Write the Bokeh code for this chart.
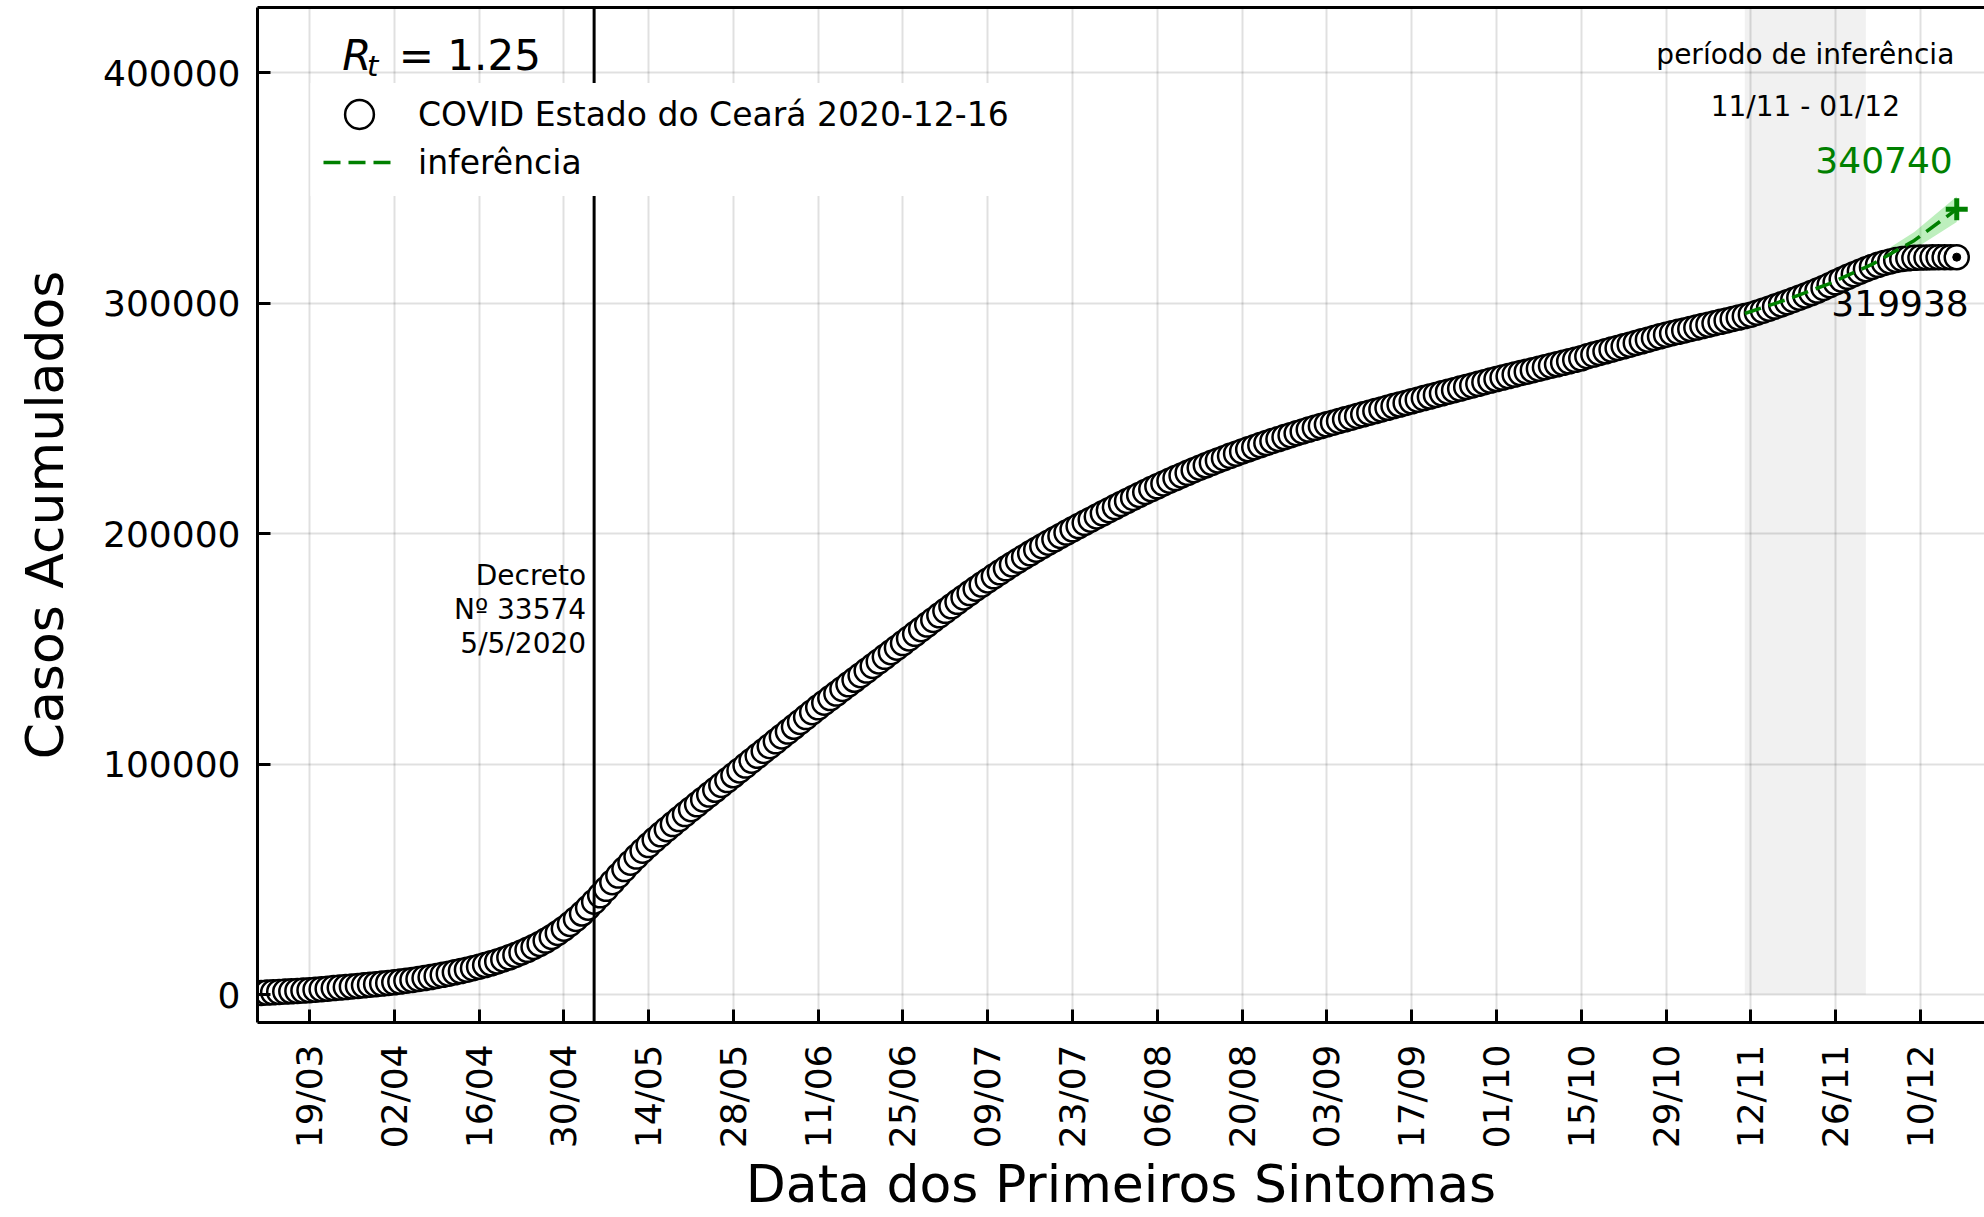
import math
import pandas as pd
from bokeh.plotting import figure
from bokeh.models import (Range1d, FixedTicker, BasicTickFormatter, DatetimeTickFormatter,
                          LinearAxis, Span, BoxAnnotation, Label, Legend, LegendItem,
                          ColumnDataSource)
from bokeh.core.properties import value
from bokeh.embed import file_html
from bokeh.resources import INLINE

FONT = "DejaVu Sans"

# ---------------- data ----------------
start_date = "2020-03-11"
cases = [
    700, 830, 970, 1110, 1260, 1410, 1570, 1730, 1900,
    2110, 2330, 2550, 2780, 3010, 3250, 3490, 3740, 3990, 4250, 4510, 4770,
    5030, 5300,
    5630, 5980, 6350, 6740, 7150, 7590, 8050, 8540, 9060, 9610, 10190, 10800, 11440, 12100,
    12800, 13550, 14350, 15220, 16160, 17170, 18250, 19400, 20620,
    21950, 23400, 24980, 26700, 28550,
    30600, 32800, 35150, 37650, 40300,
    43050, 45880, 48750, 51620, 54450, 57200, 59850, 62400, 64850,
    67220, 69520, 71760, 73960, 76130, 78280, 80400, 82520, 84630, 86740, 88840, 90940, 93040, 95130,
    97240, 99340, 101450,
    103550, 105660, 107760, 109870, 111970, 114080, 116180, 118290, 120390, 122500, 124600,
    126620, 128610, 130600, 132590, 134580, 136570, 138560, 140550, 142540, 144530, 146520, 148510, 150500, 152490,
    154500, 156510, 158520, 160520, 162520,
    164510, 166490, 168450, 170390, 172310, 174200, 176060, 177890, 179690,
    181460, 183200, 184910, 186590, 188240, 189860, 191450, 193010, 194540, 196040, 197520, 198980, 200420, 201840,
    203250, 204650, 206040, 207420, 208790, 210150, 211500, 212840,
    214170, 215480, 216770, 218040, 219290, 220520,
    221730, 222920, 224090, 225240, 226370, 227480, 228570, 229640, 230690, 231720, 232730, 233720, 234690, 235640,
    236580, 237500, 238400, 239290, 240170, 241030, 241880, 242710, 243530, 244330, 245120,
    245890, 246650, 247390,
    248120, 248850, 249580, 250300, 251020, 251740, 252460, 253170, 253880, 254590, 255300, 256000, 256700, 257400,
    258090, 258780, 259470, 260160, 260850, 261540, 262230, 262920, 263610, 264300, 264990, 265680, 266370,
    267060,
    267700, 268340, 268980, 269620, 270260, 270900, 271540, 272180, 272820, 273460, 274100, 274740, 275380, 276020,
    276940, 277660, 278380, 279100, 279820, 280540, 281260, 281980, 282700, 283420, 284140, 284860, 285580, 286300,
    286920, 287540,
    288160, 288780, 289400, 290020, 290640, 291260, 291880, 292500, 293120, 293740, 294360, 294980,
    295830, 296700, 297590, 298500, 299430, 300380, 301350, 302340, 303350, 304380, 305430, 306600, 307800, 309000,
    310200, 311400, 312550, 313650,
    314700, 315700, 316600, 317400, 318100, 318700, 319150, 319450, 319650, 319760, 319830, 319880,
    319910, 319925, 319933, 319938,
]

inf_dates = ["2020-11-11", "2020-11-18", "2020-11-25", "2020-12-02", "2020-12-09", "2020-12-16"]
inf_mid = [295500, 301600, 308500, 316800, 327200, 340740]
inf_low = [295500, 301000, 307200, 314500, 323500, 335200]
inf_high = [295500, 302200, 309800, 319100, 330900, 346300]

x_tick_labels = ["19/03", "02/04", "16/04", "30/04", "14/05", "28/05", "11/06", "25/06",
                 "09/07", "23/07", "06/08", "20/08", "03/09", "17/09", "01/10", "15/10",
                 "29/10", "12/11", "26/11", "10/12"]
y_ticks = [0, 100000, 200000, 300000, 400000]

decree_date = "2020-05-05"
decree_lines = ["Decreto", "Nº 33574", "5/5/2020"]
period_start, period_end = "2020-11-11", "2020-12-01"
period_lines = ["período de inferência", "11/11 - 01/12"]
rt_value = 1.25
series_label = "COVID Estado do Ceará 2020-12-16"
inf_label = "inferência"


def ms(s):
    return pd.Timestamp(s).value / 1e6


dates = pd.date_range(start_date, periods=len(cases), freq="D")
src = ColumnDataSource(dict(date=dates, cases=cases))
inf_src = ColumnDataSource(dict(date=pd.to_datetime(inf_dates), mid=inf_mid, low=inf_low, high=inf_high))

x_ticks = [ms(pd.to_datetime(t + "/2020", format="%d/%m/%Y")) for t in x_tick_labels]

# ---------------- figure ----------------
p = figure(width=1984, height=1217, x_axis_type="datetime",
           output_backend="svg", toolbar_location=None,
           x_range=Range1d(ms("2020-03-10 10:00"), ms("2020-12-20 14:00")),
           y_range=Range1d(-12140, 428260),
           min_border_left=257, min_border_right=0, min_border_top=7, min_border_bottom=150)
p.outline_line_color = None
p.background_fill_color = "white"
p.border_fill_color = "white"

xaxis = p.below[0]
xaxis.ticker = FixedTicker(ticks=x_ticks)
xaxis.formatter = DatetimeTickFormatter(days="%d/%m", months="%d/%m", years="%d/%m",
                                        strip_leading_zeros=False)
xaxis.major_label_orientation = math.pi / 2
xaxis.axis_label = "Data dos Primeiros Sintomas"

yaxis = p.left[0]
yaxis.ticker = FixedTicker(ticks=y_ticks)
yaxis.formatter = BasicTickFormatter(use_scientific=False)
yaxis.axis_label = "Casos Acumulados"

for ax in (xaxis, yaxis):
    ax.axis_line_color = "black"
    ax.axis_line_width = 3
    ax.major_tick_in = 13
    ax.major_tick_out = 0
    ax.major_tick_line_width = 3
    ax.major_tick_line_color = "black"
    ax.minor_tick_line_color = None
    ax.major_label_text_font = FONT
    ax.major_label_text_font_size = "36px"
    ax.major_label_text_color = "black"
    ax.axis_label_text_font = FONT
    ax.axis_label_text_font_size = "52px"
    ax.axis_label_text_font_style = "normal"
    ax.axis_label_text_color = "black"
xaxis.major_label_standoff = 22
xaxis.axis_label_standoff = 3
yaxis.major_label_standoff = 17
yaxis.axis_label_standoff = 25

top_axis = LinearAxis(ticker=FixedTicker(ticks=[]), major_tick_in=0, major_tick_out=0,
                      minor_tick_line_color=None, major_label_standoff=0,
                      axis_line_width=3, axis_line_color="black")
p.add_layout(top_axis, "above")

for g in (p.xgrid, p.ygrid):
    g.grid_line_color = "black"
    g.grid_line_alpha = 0.12
    g.grid_line_width = 2
p.xgrid.ticker = FixedTicker(ticks=x_ticks)
p.ygrid.ticker = FixedTicker(ticks=y_ticks)

# shaded inference period
shade = BoxAnnotation(left=ms(period_start), right=ms(period_end), bottom=0,
                      fill_color="black", fill_alpha=0.055, line_color=None, level="underlay")
p.add_layout(shade)

# ---------------- glyphs ----------------
p.varea(x="date", y1="low", y2="high", source=inf_src, fill_color="limegreen", fill_alpha=0.32)

p.text(x=[dates[-1]], y=[300000], text=[str(cases[-1])], x_offset=12,
       text_font=value(FONT), text_font_size=value("36px"), text_color="black",
       text_align="right", text_baseline="alphabetic")

r_cases = p.scatter("date", "cases", source=src, marker="circle", size=24,
                    fill_color="white", line_color="black", line_width=2.5)
p.scatter(x=[dates[-1]], y=[cases[-1]], marker="circle", size=8, color="black")

r_inf = p.line("date", "mid", source=inf_src, line_color="green", line_width=3.5, line_dash="17 8")
p.scatter(x=[pd.Timestamp(inf_dates[-1])], y=[inf_mid[-1]], marker="cross", size=22,
          line_color="green", line_width=5)

p.text(x=[pd.Timestamp(inf_dates[-1])], y=[362000], text=[str(inf_mid[-1])], x_offset=-4,
       text_font=value(FONT), text_font_size=value("36px"), text_color="green",
       text_align="right", text_baseline="alphabetic")

# decree line
p.add_layout(Span(location=ms(decree_date), dimension="height", line_color="black", line_width=3))

# legend background (white box that hides grid and decree line, as in the original)
p.add_layout(BoxAnnotation(left=ms("2020-03-19 04:00"), right=ms("2020-07-16 05:00"),
                           bottom=346500, top=395500, fill_color="white", fill_alpha=1.0,
                           line_color=None))

for txt, yv in zip(decree_lines, [181700, 166900, 152200]):
    p.add_layout(Label(x=ms(decree_date), y=yv, x_offset=-8, text=txt, text_font=FONT,
                       text_font_size="28px", text_align="right", text_baseline="alphabetic",
                       text_color="black"))

period_center = (ms(period_start) + ms(period_end)) / 2
for txt, yv in zip(period_lines, [407900, 385300]):
    p.add_layout(Label(x=period_center, y=yv, text=txt, text_font=FONT, text_font_size="28px",
                       text_align="center", text_baseline="alphabetic", text_color="black"))

# R_t annotation
p.add_layout(Label(x=ms("2020-03-24 10:00"), y=407500, text="R", text_font=FONT,
                   text_font_style="italic", text_font_size="42px", text_baseline="alphabetic",
                   text_color="black"))
p.add_layout(Label(x=ms("2020-03-28 12:00"), y=403000, text="t", text_font=FONT,
                   text_font_style="italic", text_font_size="29px", text_baseline="alphabetic",
                   text_color="black"))
p.add_layout(Label(x=ms("2020-04-02 18:00"), y=407500, text=f"= {rt_value}", text_font=FONT,
                   text_font_size="42px", text_baseline="alphabetic", text_color="black"))

# legends (one per row so the marker can be large while rows stay close)
common = dict(padding=0, margin=0, label_standoff=23, glyph_width=72,
              label_text_font=FONT, label_text_font_size="33px", label_text_color="black",
              border_line_color=None, background_fill_alpha=0.0)
legend1 = Legend(items=[LegendItem(label=series_label, renderers=[r_cases])],
                 location=(66, 872), glyph_height=72, **common)
legend2 = Legend(items=[LegendItem(label=inf_label, renderers=[r_inf])],
                 location=(66, 836), glyph_height=48, **common)
p.add_layout(legend1)
p.add_layout(legend2)

open("out.html", "w").write(file_html(p, INLINE))
